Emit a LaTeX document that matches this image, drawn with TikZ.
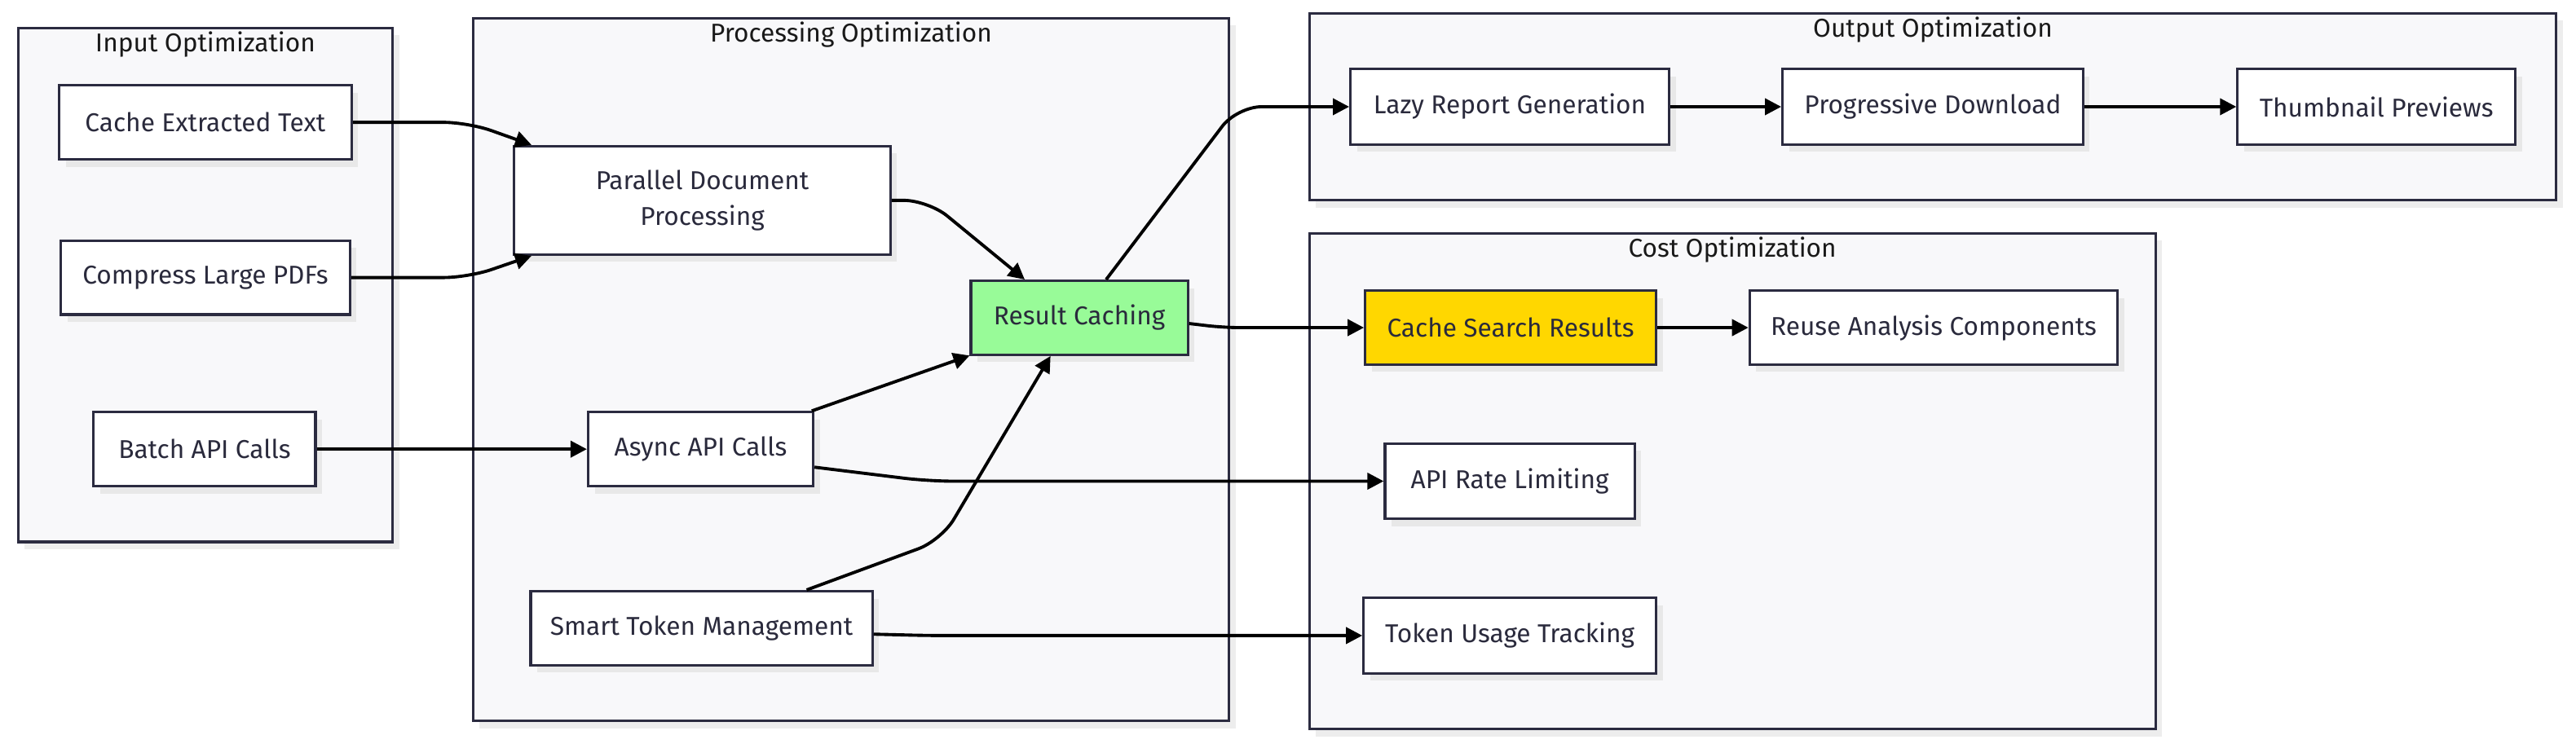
\documentclass[tikz,border=0pt]{standalone}
\usepackage{fontspec}
\setmainfont{Fira Sans}
\usetikzlibrary{positioning,arrows.meta,shadows}
\definecolor{grpfill}{HTML}{F8F8FA}
\definecolor{linedark}{HTML}{2B2B40}
\definecolor{txtdark}{HTML}{2A2A3C}
\definecolor{rcgreen}{HTML}{98FB98}
\definecolor{csgold}{HTML}{FFD700}
\newcommand\ux{0.2015mm}

\begin{document}
\begin{tikzpicture}[x=\ux, y=-\ux, -{Triangle[length=2mm,width=2mm]}, line width=1.1pt,
font=\fontsize{9}{12.5}\selectfont,
box/.style={rectangle, draw=linedark, line width=0.9pt, fill=white, text=txtdark,
minimum height=45*\ux, drop shadow={shadow xshift=4*\ux, shadow yshift=-4.5*\ux, fill=black!9, opacity=1}},
grp/.style={rectangle, draw=linedark, line width=0.9pt, fill=grpfill,
drop shadow={shadow xshift=4*\ux, shadow yshift=-4.5*\ux, fill=black!7, opacity=1}},
grptitle/.style={text=black!90}]
  \useasboundingbox (0,0) rectangle (1568,452.6);
  % input optimization
  \node[grp, minimum width=228*\ux, minimum height=313*\ux] (gin) at (125,173.5) {};
  \node[grptitle] (tin) at (125,27) {Input Optimization};
  \node[box, minimum width=178*\ux] (cet) at (125,74.5) {Cache Extracted Text};
  \node[box, minimum width=176*\ux] (clp) at (125,169) {Compress Large PDFs};
  \node[box, minimum width=135*\ux] (bac) at (124.5,273.5) {Batch API Calls};
  % processing optimization
  \node[grp, minimum width=460*\ux, minimum height=428*\ux] (gproc) at (518,225) {};
  \node[grptitle] (tproc) at (518,21) {Processing Optimization};
  \node[box, minimum width=229*\ux, minimum height=66*\ux, align=center] (pdp) at (427.5,122) {Parallel Document\\Processing};
  \node[box, fill=rcgreen, minimum width=132*\ux] (rc) at (657,193.5) {Result Caching};
  \node[box, minimum width=137*\ux] (aac) at (426.5,273.5) {Async API Calls};
  \node[box, minimum width=208*\ux] (stm) at (427,382.5) {Smart Token Management};
  % output optimization
  \node[grp, minimum width=759*\ux, minimum height=114*\ux] (gout) at (1176.5,65) {};
  \node[grptitle] (tout) at (1176.5,18) {Output Optimization};
  \node[box, minimum width=194*\ux, minimum height=46*\ux] (lrg) at (919,65) {Lazy Report Generation};
  \node[box, minimum width=183*\ux, minimum height=46*\ux] (pd) at (1176.5,65) {Progressive Download};
  \node[box, minimum width=169*\ux, minimum height=46*\ux] (tp) at (1446.5,65) {Thumbnail Previews};
  % cost optimization
  \node[grp, minimum width=515*\ux, minimum height=302*\ux] (gcost) at (1054.5,293) {};
  \node[grptitle] (tcost) at (1054.5,152) {Cost Optimization};
  \node[box, fill=csgold, minimum width=177*\ux] (csr) at (919.5,199.5) {Cache Search Results};
  \node[box, minimum width=224*\ux] (rac) at (1177,199.5) {Reuse Analysis Components};
  \node[box, minimum width=152*\ux, minimum height=46*\ux] (arl) at (919,293) {API Rate Limiting};
  \node[box, minimum width=178*\ux, minimum height=46*\ux] (utt) at (919,387) {Token Usage Tracking};

\foreach \from/\to in {bac/aac,lrg/pd,pd/tp,csr/rac}
    \draw (\from) -- (\to);
  \draw[rounded corners=3mm] (cet.east) -- (285,74.5) -- (pdp.162);
  \draw[rounded corners=3mm] (clp.east) -- (285,169) -- (pdp.198);
  \draw[rounded corners=3mm] (pdp.east) -- (565,122) -- (rc.145);
  \draw (aac.19) -- (rc.199);
  \draw[rounded corners=3mm] (aac.351) -- (565,293) -- (arl.west);
  \draw[rounded corners=3mm] (stm.20) -- (573,329) -- (rc.233);
  \draw[rounded corners=2mm] (stm.358) -- (565,387) -- (utt.west);
  \draw[rounded corners=3mm] (rc.55) -- (753,65) -- (lrg.west);
  \draw[rounded corners=2mm] (rc.357) -- (745,199.5) -- (csr.west);
\end{tikzpicture}
\end{document}
